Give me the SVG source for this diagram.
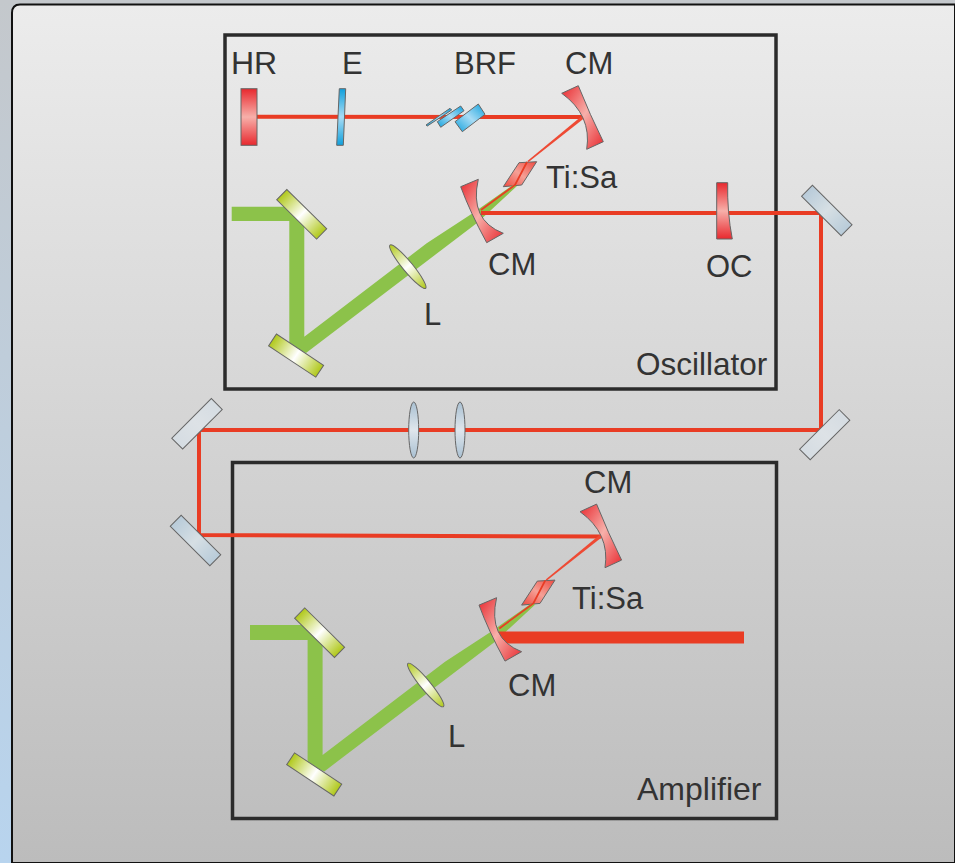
<svg xmlns="http://www.w3.org/2000/svg" width="955" height="863" viewBox="0 0 955 863">
<defs>
<linearGradient id="page" x1="0" y1="0" x2="0" y2="1"><stop offset="0" stop-color="#ececec"/><stop offset="1" stop-color="#bcbcbc"/></linearGradient>
<linearGradient id="left" x1="0" y1="0" x2="0" y2="1"><stop offset="0" stop-color="#c4c8cc"/><stop offset="1" stop-color="#b8d4ee"/></linearGradient>
<linearGradient id="green" x1="0" y1="0" x2="1" y2="0"><stop offset="0" stop-color="#b0c81a"/><stop offset=".5" stop-color="#fff"/><stop offset="1" stop-color="#b0c81a"/></linearGradient>
<linearGradient id="greenv" x1="0" y1="0" x2="0" y2="1"><stop offset="0" stop-color="#b0c81a"/><stop offset=".5" stop-color="#fff"/><stop offset="1" stop-color="#b0c81a"/></linearGradient>
<linearGradient id="red" x1="0" y1="0" x2="1" y2="1"><stop offset="0" stop-color="#e8282e"/><stop offset=".5" stop-color="#f7b0aa"/><stop offset="1" stop-color="#e8282e"/></linearGradient>
<linearGradient id="redv" x1="0" y1="0" x2="0" y2="1"><stop offset="0" stop-color="#e8282e"/><stop offset=".5" stop-color="#f7b0aa"/><stop offset="1" stop-color="#e8282e"/></linearGradient>
<linearGradient id="redx" x1="0" y1="1" x2="1" y2="0"><stop offset="0" stop-color="#ee4a40"/><stop offset=".5" stop-color="#f5a096"/><stop offset="1" stop-color="#ee4a40"/></linearGradient>
<linearGradient id="blue" x1="0" y1="1" x2="1" y2="0"><stop offset="0" stop-color="#10a0dc"/><stop offset=".5" stop-color="#a8dcf5"/><stop offset="1" stop-color="#10a0dc"/></linearGradient>
<linearGradient id="bluev" x1="0" y1="0" x2="0" y2="1"><stop offset="0" stop-color="#10a0dc"/><stop offset=".5" stop-color="#a8dcf5"/><stop offset="1" stop-color="#10a0dc"/></linearGradient>
<linearGradient id="grey" x1="0" y1="0" x2="1" y2="0"><stop offset="0" stop-color="#b8cbd9"/><stop offset=".5" stop-color="#d6dfe4"/><stop offset="1" stop-color="#b8cbd9"/></linearGradient>
<linearGradient id="paleg" x1="0" y1="0" x2="1" y2="0"><stop offset="0" stop-color="#d5dce2"/><stop offset=".5" stop-color="#dde2e6"/><stop offset="1" stop-color="#d5dce2"/></linearGradient>
<linearGradient id="greyv" x1="0" y1="0" x2="0" y2="1"><stop offset="0" stop-color="#a9c0d2"/><stop offset=".5" stop-color="#dfe6ec"/><stop offset="1" stop-color="#a9c0d2"/></linearGradient>
<path id="cm-a" d="M561.700 93.300L578.300 85.700Q590 115 603.300 141.700L586.700 149.300Q592 115 561.700 93.300Z"/>
<path id="cm-b" d="M460.700 186.700L478.300 179.300Q469 220 503.300 233.300L486.700 242.700Q470 212 460.700 186.700Z"/>
<path id="crystal" d="M519 162.700L536.700 161.700L521.700 185L503.300 186.700Z"/>
<path id="pump" d="M231.700 206.700H296L304.300 214V336.700L426.700 243.300L473 213L513 185L517 186L477 223L306 353L289.300 345V221H231.700Z"/>
<path id="pump2" d="M250 625H314.600L322.600 632.400V755.100L445 661.700L491.300 631.400L531.300 603.400L535.300 604.400L495.300 641.400L324.300 771.400L307.600 763.400V640H250Z"/>
<path id="thin" d="M581.800 116L584.500 118L528.600 162L527.400 161Z"/>
<ellipse id="lens" rx="5" ry="28"/>
</defs>
<style>
text{font-family:"Liberation Sans",Arial,sans-serif;font-size:31px;fill:#333}
.box{fill:none;stroke:#2b2b2b;stroke-width:3.500}
.g{fill:#8cc24a}
.r{fill:none;stroke:#e93c24;stroke-linejoin:miter}
.rf{fill:#ee4a34}
.opt{stroke:#666;stroke-width:1}
</style>
<rect width="955" height="863" fill="url(#left)"/>
<path d="M955 4.500H20Q12 4.500 12 13V863H955Z" fill="url(#page)" stroke="#111" stroke-width="2"/>
<g id="box-oscillator"><rect class="box" x="225" y="35" width="551" height="354"/><text x="636" y="375" style="font-size:31.500px">Oscillator</text></g>
<g id="box-amplifier"><rect class="box" x="232.500" y="462.500" width="544" height="356"/><text x="637" y="800" style="font-size:32px">Amplifier</text></g>
<g id="TiSa-1"><use href="#crystal" class="opt" fill="url(#redx)"/><text x="546" y="188">Ti:Sa</text></g>
<g id="TiSa-2"><use href="#crystal" class="opt" fill="url(#redx)" transform="translate(18.300 418.400)"/><text x="572" y="609">Ti:Sa</text></g>
<g id="connectors">
<use href="#pump" class="g"/>
<use href="#pump2" class="g"/>
<path class="r" stroke-width="4" d="M257 116.700L583 117"/>
<use href="#thin" class="rf"/>
<path class="r" stroke-width="1.800" d="M527 162L515 185L481 210"/>
<path class="r" stroke-width="4" d="M481 213H821V430H199V535L601.500 536.500"/>
<use href="#thin" class="rf" transform="translate(18.300 418.400)"/>
<path class="r" stroke-width="1.800" d="M545.300 580.400L533.300 603.400L499.300 628.400"/>
<path class="r" stroke-width="12" d="M498 637.500H744"/>
</g>
<g id="HR"><rect class="opt" x="241" y="88.700" width="16" height="56.600" fill="url(#redv)"/><text x="231" y="74" style="font-size:32px">HR</text></g>
<g id="E"><path class="opt" d="M339.300 88.700H345.700L343.300 145.300H336.700Z" fill="url(#bluev)"/><text x="342" y="74">E</text></g>
<g id="BRF">
<path class="opt" d="M426 125L450 108.300L451.700 110L427.300 126Z" fill="url(#blue)"/>
<path class="opt" d="M437.300 121.700L460.700 106L464 110.700L440.700 127.300Z" fill="url(#blue)"/>
<path class="opt" d="M455 121.700L478.300 104L485 114.300L462.300 131.700Z" fill="url(#blue)"/>
<text x="454" y="74">BRF</text></g>
<g id="CM-1"><use href="#cm-a" class="opt" fill="url(#red)"/><text x="565" y="74">CM</text></g>
<g id="CM-2"><use href="#cm-b" class="opt" fill="url(#red)"/><text x="488" y="275">CM</text></g>
<g id="OC"><path class="opt" d="M716.700 182.700H727.700Q727 212 732.300 239H716.700Z" fill="url(#redv)"/><text x="706" y="277">OC</text></g>
<g id="mirror-g1"><rect class="opt" x="-28" y="-7.200" width="56" height="14.400" transform="translate(301.700 214.300) rotate(44.600)" fill="url(#green)"/></g>
<g id="mirror-g2"><rect class="opt" x="-28.300" y="-7.100" width="56.600" height="14.200" transform="translate(296.100 355.600) rotate(33.500)" fill="url(#green)"/></g>
<g id="L-1"><use href="#lens" class="opt" fill="url(#greenv)" transform="translate(407.800 266.700) rotate(-39.500)"/><text x="424" y="325">L</text></g>
<g id="mirror-3"><rect class="opt" x="-28" y="-7.700" width="56" height="15.400" transform="translate(826.800 210.500) rotate(45)" fill="url(#grey)"/></g>
<g id="mirror-4"><rect class="opt" x="-28" y="-7.500" width="56" height="15" transform="translate(824.700 434.700) rotate(-45)" fill="url(#paleg)"/></g>
<g id="mirror-5"><rect class="opt" x="-28" y="-7.700" width="56" height="15.400" transform="translate(197 423.800) rotate(-45)" fill="url(#paleg)"/></g>
<g id="mirror-6"><rect class="opt" x="-28" y="-7.700" width="56" height="15.400" transform="translate(195.500 540.500) rotate(45)" fill="url(#grey)"/></g>
<g id="lens-1"><use href="#lens" class="opt" fill="url(#greyv)" transform="translate(413.700 430)"/></g>
<g id="lens-2"><use href="#lens" class="opt" fill="url(#greyv)" transform="translate(460 430)"/></g>
<g id="CM-3"><use href="#cm-a" class="opt" fill="url(#red)" transform="translate(18.300 418.400)"/><text x="584" y="493">CM</text></g>
<g id="CM-4"><use href="#cm-b" class="opt" fill="url(#red)" transform="translate(18.300 418.400)"/><text x="508" y="696">CM</text></g>
<g id="mirror-g3"><rect class="opt" x="-28" y="-7.200" width="56" height="14.400" transform="translate(319.600 632.700) rotate(44.600)" fill="url(#green)"/></g>
<g id="mirror-g4"><rect class="opt" x="-28.300" y="-7.100" width="56.600" height="14.200" transform="translate(314.200 774.400) rotate(33.500)" fill="url(#green)"/></g>
<g id="L-2"><use href="#lens" class="opt" fill="url(#greenv)" transform="translate(425.700 685) rotate(-39.500)"/><text x="448" y="747">L</text></g>
</svg>
